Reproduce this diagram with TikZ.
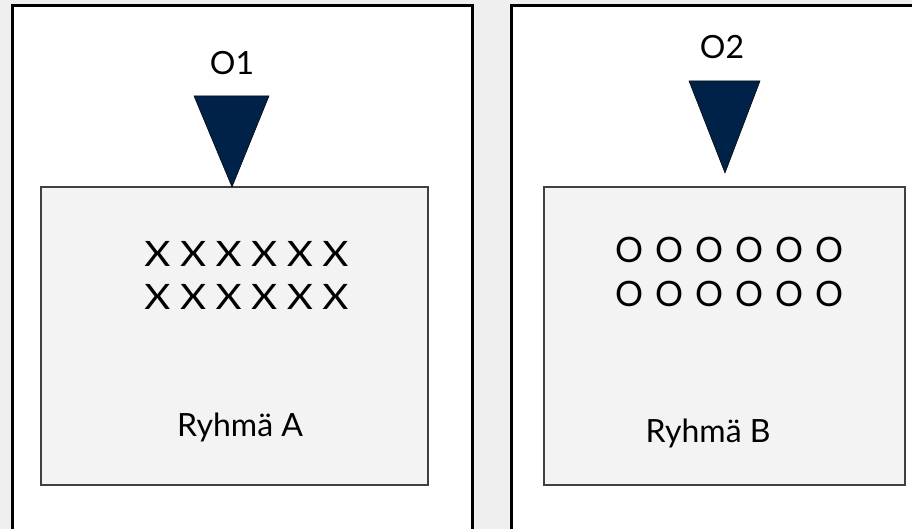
\documentclass[tikz,border=0pt]{standalone}
\usepackage{fontspec}
\setmainfont{Lato}
\usetikzlibrary{positioning}
\definecolor{pagegray}{HTML}{EFEFEF}
\definecolor{boxgray}{HTML}{F3F3F3}
\definecolor{navy}{RGB}{0,34,72}
\newcommand{\onemark}[3]{\makebox[#2]{\scalebox{#3}[1]{#1}}}
\newcommand{\sixmarks}[3]{\onemark{#1}{#2}{#3}\onemark{#1}{#2}{#3}\onemark{#1}{#2}{#3}\onemark{#1}{#2}{#3}\onemark{#1}{#2}{#3}\onemark{#1}{#2}{#3}}
\tikzset{
  outer/.style={draw=black,line width=3pt,fill=white},
  group/.style={draw=black!75,line width=1.5pt,fill=boxgray,inner sep=0pt,minimum height=298pt},
  tri/.style={fill=navy,draw=black,line width=0.5pt,line join=miter},
  lbl/.style={inner sep=0pt,anchor=base,font=\fontsize{32}{36}\selectfont},
  marks/.style={inner sep=0pt,anchor=base,font=\fontsize{35}{40}\selectfont}
}
\begin{document}
\begin{tikzpicture}[x=1pt,y=-1pt]
\useasboundingbox (0,0) rectangle (912,529);
\clip (0,0) rectangle (912,529);
\fill[pagegray] (0,0) rectangle (912,529);
\draw[outer] (12,6) rectangle (472,545);
\draw[outer] (511,6) rectangle (930,545);
% groups
\node[group,minimum width=387pt] (groupA) at (234.5,336) {};
\node[group,minimum width=361pt] (groupB) at (724.5,336) {};
% observations
\coordinate (tipA) at (232,187);
\coordinate (tipB) at (725,173);
\draw[tri] (194,96) -- (269,96) -- (tipA) -- cycle;
\draw[tri] (689,81) -- (760,81) -- (tipB) -- cycle;
\node[lbl] (obsA) at (232,75) {O1};
\node[lbl] (obsB) at (722,59) {O2};
% members
\node[marks] (xrow1) at (246.5,266) {\sixmarks{X}{35.6pt}{1.15}};
\node[marks] (xrow2) at (246.5,309) {\sixmarks{X}{35.6pt}{1.15}};
\node[marks] (orow1) at (729,262) {\sixmarks{O}{40pt}{1}};
\node[marks] (orow2) at (729,306) {\sixmarks{O}{40pt}{1}};
\node[lbl] (nameA) at (240,436) {Ryhmä A};
\node[lbl] (nameB) at (708,442) {Ryhmä B};
\end{tikzpicture}
\end{document}
